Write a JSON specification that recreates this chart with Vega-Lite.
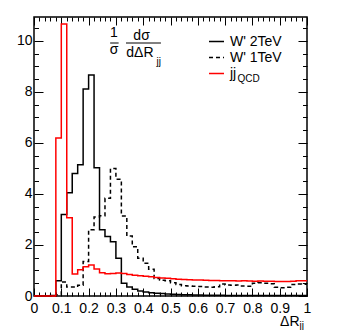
{
"$schema": "https://vega.github.io/schema/vega-lite/v6.json",
"width": 273, "height": 279,
"autosize": {"type": "none"},
"padding": {"left": 34, "top": 17, "right": 34, "bottom": 34},
"background": "white",
"config": {
  "view": {"stroke": "#000", "strokeWidth": 1.5},
  "font": "Liberation Sans",
  "axis": {"domain": false, "grid": false, "labelFont": "Liberation Sans", "labelFontSize": 14, "labelColor": "#000", "tickColor": "#000", "tickWidth": 1, "labelFlush": false, "labelOverlap": false, "zindex": 1, "title": null},
  "text": {"font": "Liberation Sans", "fontSize": 14, "color": "#000"}
},
"datasets": {
  "hist": [
    {"series": "W' 2TeV", "x": 0, "y": 0}, {"series": "W' 2TeV", "x": 0.02, "y": 0}, {"series": "W' 2TeV", "x": 0.04, "y": 0}, {"series": "W' 2TeV", "x": 0.06, "y": 0.02},
    {"series": "W' 2TeV", "x": 0.08, "y": 0.6}, {"series": "W' 2TeV", "x": 0.1, "y": 3.2}, {"series": "W' 2TeV", "x": 0.12, "y": 4.05}, {"series": "W' 2TeV", "x": 0.14, "y": 4.8},
    {"series": "W' 2TeV", "x": 0.16, "y": 5.15}, {"series": "W' 2TeV", "x": 0.18, "y": 8.12}, {"series": "W' 2TeV", "x": 0.2, "y": 8.67}, {"series": "W' 2TeV", "x": 0.22, "y": 5.03},
    {"series": "W' 2TeV", "x": 0.24, "y": 2.6}, {"series": "W' 2TeV", "x": 0.26, "y": 2.33}, {"series": "W' 2TeV", "x": 0.28, "y": 2.13}, {"series": "W' 2TeV", "x": 0.3, "y": 1.48},
    {"series": "W' 2TeV", "x": 0.32, "y": 0.5}, {"series": "W' 2TeV", "x": 0.34, "y": 0.35}, {"series": "W' 2TeV", "x": 0.36, "y": 0.26}, {"series": "W' 2TeV", "x": 0.38, "y": 0.2},
    {"series": "W' 2TeV", "x": 0.4, "y": 0.16}, {"series": "W' 2TeV", "x": 0.42, "y": 0.13}, {"series": "W' 2TeV", "x": 0.44, "y": 0.11}, {"series": "W' 2TeV", "x": 0.46, "y": 0.1},
    {"series": "W' 2TeV", "x": 0.48, "y": 0.08}, {"series": "W' 2TeV", "x": 0.5, "y": 0.07}, {"series": "W' 2TeV", "x": 0.52, "y": 0.06}, {"series": "W' 2TeV", "x": 0.54, "y": 0.05},
    {"series": "W' 2TeV", "x": 0.56, "y": 0.05}, {"series": "W' 2TeV", "x": 0.58, "y": 0.04}, {"series": "W' 2TeV", "x": 0.6, "y": 0.04}, {"series": "W' 2TeV", "x": 0.62, "y": 0.03},
    {"series": "W' 2TeV", "x": 0.64, "y": 0.03}, {"series": "W' 2TeV", "x": 0.66, "y": 0.03}, {"series": "W' 2TeV", "x": 0.68, "y": 0.03}, {"series": "W' 2TeV", "x": 0.7, "y": 0.02},
    {"series": "W' 2TeV", "x": 0.72, "y": 0.02}, {"series": "W' 2TeV", "x": 0.74, "y": 0.02}, {"series": "W' 2TeV", "x": 0.76, "y": 0.02}, {"series": "W' 2TeV", "x": 0.78, "y": 0.02},
    {"series": "W' 2TeV", "x": 0.8, "y": 0.02}, {"series": "W' 2TeV", "x": 0.82, "y": 0.02}, {"series": "W' 2TeV", "x": 0.84, "y": 0.02}, {"series": "W' 2TeV", "x": 0.86, "y": 0.02},
    {"series": "W' 2TeV", "x": 0.88, "y": 0.02}, {"series": "W' 2TeV", "x": 0.9, "y": 0.02}, {"series": "W' 2TeV", "x": 0.92, "y": 0.02}, {"series": "W' 2TeV", "x": 0.94, "y": 0.02},
    {"series": "W' 2TeV", "x": 0.96, "y": 0.02}, {"series": "W' 2TeV", "x": 0.98, "y": 0.02}, {"series": "W' 2TeV", "x": 1.0, "y": 0.02},

    {"series": "W' 1TeV", "x": 0, "y": 0}, {"series": "W' 1TeV", "x": 0.02, "y": 0}, {"series": "W' 1TeV", "x": 0.04, "y": 0}, {"series": "W' 1TeV", "x": 0.06, "y": 0},
    {"series": "W' 1TeV", "x": 0.08, "y": 0.05}, {"series": "W' 1TeV", "x": 0.1, "y": 0.55}, {"series": "W' 1TeV", "x": 0.12, "y": 0.35}, {"series": "W' 1TeV", "x": 0.14, "y": 0.35},
    {"series": "W' 1TeV", "x": 0.16, "y": 0.42}, {"series": "W' 1TeV", "x": 0.18, "y": 1.35}, {"series": "W' 1TeV", "x": 0.2, "y": 2.6}, {"series": "W' 1TeV", "x": 0.22, "y": 3.1},
    {"series": "W' 1TeV", "x": 0.24, "y": 3.15}, {"series": "W' 1TeV", "x": 0.26, "y": 3.83}, {"series": "W' 1TeV", "x": 0.28, "y": 5.0}, {"series": "W' 1TeV", "x": 0.3, "y": 4.58},
    {"series": "W' 1TeV", "x": 0.32, "y": 3.14}, {"series": "W' 1TeV", "x": 0.34, "y": 2.35}, {"series": "W' 1TeV", "x": 0.36, "y": 1.93}, {"series": "W' 1TeV", "x": 0.38, "y": 1.48},
    {"series": "W' 1TeV", "x": 0.4, "y": 1.28}, {"series": "W' 1TeV", "x": 0.42, "y": 1.05}, {"series": "W' 1TeV", "x": 0.44, "y": 0.69}, {"series": "W' 1TeV", "x": 0.46, "y": 0.62},
    {"series": "W' 1TeV", "x": 0.48, "y": 0.6}, {"series": "W' 1TeV", "x": 0.5, "y": 0.52}, {"series": "W' 1TeV", "x": 0.52, "y": 0.45}, {"series": "W' 1TeV", "x": 0.54, "y": 0.4},
    {"series": "W' 1TeV", "x": 0.56, "y": 0.39}, {"series": "W' 1TeV", "x": 0.58, "y": 0.38}, {"series": "W' 1TeV", "x": 0.6, "y": 0.37}, {"series": "W' 1TeV", "x": 0.62, "y": 0.35},
    {"series": "W' 1TeV", "x": 0.64, "y": 0.34}, {"series": "W' 1TeV", "x": 0.66, "y": 0.36}, {"series": "W' 1TeV", "x": 0.68, "y": 0.47}, {"series": "W' 1TeV", "x": 0.7, "y": 0.43},
    {"series": "W' 1TeV", "x": 0.72, "y": 0.42}, {"series": "W' 1TeV", "x": 0.74, "y": 0.43}, {"series": "W' 1TeV", "x": 0.76, "y": 0.39}, {"series": "W' 1TeV", "x": 0.78, "y": 0.38},
    {"series": "W' 1TeV", "x": 0.8, "y": 0.5}, {"series": "W' 1TeV", "x": 0.82, "y": 0.52}, {"series": "W' 1TeV", "x": 0.84, "y": 0.5}, {"series": "W' 1TeV", "x": 0.86, "y": 0.48},
    {"series": "W' 1TeV", "x": 0.88, "y": 0.34}, {"series": "W' 1TeV", "x": 0.9, "y": 0.32}, {"series": "W' 1TeV", "x": 0.92, "y": 0.34}, {"series": "W' 1TeV", "x": 0.94, "y": 0.45},
    {"series": "W' 1TeV", "x": 0.96, "y": 0.47}, {"series": "W' 1TeV", "x": 0.98, "y": 0.46}, {"series": "W' 1TeV", "x": 1.0, "y": 0.46},

    {"series": "jjQCD", "x": 0, "y": 0}, {"series": "jjQCD", "x": 0.02, "y": 0}, {"series": "jjQCD", "x": 0.04, "y": 0}, {"series": "jjQCD", "x": 0.06, "y": 0},
    {"series": "jjQCD", "x": 0.08, "y": 6.2}, {"series": "jjQCD", "x": 0.1, "y": 10.67}, {"series": "jjQCD", "x": 0.12, "y": 3.07}, {"series": "jjQCD", "x": 0.14, "y": 0.86},
    {"series": "jjQCD", "x": 0.16, "y": 1.03}, {"series": "jjQCD", "x": 0.18, "y": 1.15}, {"series": "jjQCD", "x": 0.2, "y": 1.22}, {"series": "jjQCD", "x": 0.22, "y": 1.06},
    {"series": "jjQCD", "x": 0.24, "y": 0.91}, {"series": "jjQCD", "x": 0.26, "y": 0.87}, {"series": "jjQCD", "x": 0.28, "y": 0.88}, {"series": "jjQCD", "x": 0.3, "y": 0.9},
    {"series": "jjQCD", "x": 0.32, "y": 0.88}, {"series": "jjQCD", "x": 0.34, "y": 0.84}, {"series": "jjQCD", "x": 0.36, "y": 0.81}, {"series": "jjQCD", "x": 0.38, "y": 0.79},
    {"series": "jjQCD", "x": 0.4, "y": 0.77}, {"series": "jjQCD", "x": 0.42, "y": 0.75}, {"series": "jjQCD", "x": 0.44, "y": 0.73}, {"series": "jjQCD", "x": 0.46, "y": 0.71},
    {"series": "jjQCD", "x": 0.48, "y": 0.7}, {"series": "jjQCD", "x": 0.5, "y": 0.68}, {"series": "jjQCD", "x": 0.52, "y": 0.66}, {"series": "jjQCD", "x": 0.54, "y": 0.65},
    {"series": "jjQCD", "x": 0.56, "y": 0.64}, {"series": "jjQCD", "x": 0.58, "y": 0.63}, {"series": "jjQCD", "x": 0.6, "y": 0.63}, {"series": "jjQCD", "x": 0.62, "y": 0.62},
    {"series": "jjQCD", "x": 0.64, "y": 0.61}, {"series": "jjQCD", "x": 0.66, "y": 0.61}, {"series": "jjQCD", "x": 0.68, "y": 0.6}, {"series": "jjQCD", "x": 0.7, "y": 0.6},
    {"series": "jjQCD", "x": 0.72, "y": 0.6}, {"series": "jjQCD", "x": 0.74, "y": 0.59}, {"series": "jjQCD", "x": 0.76, "y": 0.6}, {"series": "jjQCD", "x": 0.78, "y": 0.59},
    {"series": "jjQCD", "x": 0.8, "y": 0.58}, {"series": "jjQCD", "x": 0.82, "y": 0.59}, {"series": "jjQCD", "x": 0.84, "y": 0.58}, {"series": "jjQCD", "x": 0.86, "y": 0.58},
    {"series": "jjQCD", "x": 0.88, "y": 0.57}, {"series": "jjQCD", "x": 0.9, "y": 0.57}, {"series": "jjQCD", "x": 0.92, "y": 0.57}, {"series": "jjQCD", "x": 0.94, "y": 0.58},
    {"series": "jjQCD", "x": 0.96, "y": 0.6}, {"series": "jjQCD", "x": 0.98, "y": 0.6}, {"series": "jjQCD", "x": 1.0, "y": 0.6}
  ],
  "one": [{}]
},
"resolve": {"axis": {"x": "independent", "y": "independent"}},
"layer": [
  {
    "data": {"name": "hist"},
    "mark": {"type": "line", "interpolate": "step-after", "strokeWidth": 1.5},
    "encoding": {
      "x": {"field": "x", "type": "quantitative", "scale": {"domain": [0, 1], "nice": false},
        "axis": {"orient": "bottom", "values": [0, 0.1, 0.2, 0.3, 0.4, 0.5, 0.6, 0.7, 0.8, 0.9, 1], "format": "~f", "tickSize": -8, "labelPadding": 13,
          "title": "ΔR", "titleFontSize": 14, "titleFont": "Liberation Sans", "titleFontWeight": "normal", "titleAnchor": "end", "titleAlign": "right", "titleBaseline": "alphabetic", "titleX": 265, "titleY": 29.5}},
      "y": {"field": "y", "type": "quantitative", "scale": {"domain": [0, 10.94], "nice": false},
        "axis": {"orient": "left", "values": [0, 2, 4, 6, 8, 10], "format": "~f", "tickSize": -9, "labelPadding": 11}},
      "color": {"field": "series", "type": "nominal", "scale": {"domain": ["W' 2TeV", "W' 1TeV", "jjQCD"], "range": ["#000000", "#000000", "#ff0000"]},
        "legend": {"orient": "none", "legendX": 174, "legendY": 16, "title": null, "padding": 0, "symbolType": "stroke", "symbolSize": 225, "symbolStrokeWidth": 1.5, "labelFont": "Liberation Sans", "labelFontSize": 14, "labelColor": "#000", "labelOffset": 5, "rowPadding": 0, "labelExpr": "datum.label == 'jjQCD' ? 'jj' : datum.label"}},
      "strokeDash": {"field": "series", "type": "nominal", "scale": {"domain": ["W' 2TeV", "W' 1TeV", "jjQCD"], "range": [[1, 0], [4, 3], [1, 0]]},
        "legend": {"orient": "none", "legendX": 174, "legendY": 16, "title": null, "padding": 0, "symbolType": "stroke", "symbolSize": 225, "symbolStrokeWidth": 1.5, "labelFont": "Liberation Sans", "labelFontSize": 14, "labelColor": "#000", "labelOffset": 5, "rowPadding": 0, "labelExpr": "datum.label == 'jjQCD' ? 'jj' : datum.label"}}
    }
  },
  {
    "data": {"name": "one"},
    "mark": {"type": "text", "text": "1", "fontSize": 14},
    "encoding": {
      "x": {"datum": 0.293, "type": "quantitative", "scale": {"domain": [0, 1], "nice": false},
        "axis": {"orient": "bottom", "values": [0.02,0.04,0.06,0.08,0.12,0.14,0.16,0.18,0.22,0.24,0.26,0.28,0.32,0.34,0.36,0.38,0.42,0.44,0.46,0.48,0.52,0.54,0.56,0.58,0.62,0.64,0.66,0.68,0.72,0.74,0.76,0.78,0.82,0.84,0.86,0.88,0.92,0.94,0.96,0.98], "tickSize": -4, "labels": false,
          "title": "jj", "titleFontSize": 10, "titleFont": "Liberation Sans", "titleFontWeight": "normal", "titleAlign": "left", "titleAnchor": "start", "titleBaseline": "alphabetic", "titleX": 265, "titleY": 32}},
      "y": {"datum": 10.32, "type": "quantitative", "scale": {"domain": [0, 10.94], "nice": false},
        "axis": {"orient": "left", "values": [0.5,1,1.5,2.5,3,3.5,4.5,5,5.5,6.5,7,7.5,8.5,9,9.5,10.5], "tickSize": -4.5, "labels": false}}
    }
  },
  {
    "data": {"name": "one"},
    "mark": {"type": "text", "text": "σ", "fontSize": 14},
    "encoding": {
      "x": {"datum": 0.293, "type": "quantitative", "scale": {"domain": [0, 1], "nice": false},
        "axis": {"orient": "top", "values": [0, 0.1, 0.2, 0.3, 0.4, 0.5, 0.6, 0.7, 0.8, 0.9, 1], "tickSize": -8, "labels": false}},
      "y": {"datum": 9.66, "type": "quantitative", "scale": {"domain": [0, 10.94], "nice": false},
        "axis": {"orient": "right", "values": [0, 2, 4, 6, 8, 10], "tickSize": -9, "labels": false}}
    }
  },
  {
    "data": {"name": "one"},
    "mark": {"type": "text", "text": "dσ", "fontSize": 14},
    "encoding": {
      "x": {"datum": 0.394, "type": "quantitative", "scale": {"domain": [0, 1], "nice": false},
        "axis": {"orient": "top", "values": [0.02,0.04,0.06,0.08,0.12,0.14,0.16,0.18,0.22,0.24,0.26,0.28,0.32,0.34,0.36,0.38,0.42,0.44,0.46,0.48,0.52,0.54,0.56,0.58,0.62,0.64,0.66,0.68,0.72,0.74,0.76,0.78,0.82,0.84,0.86,0.88,0.92,0.94,0.96,0.98], "tickSize": -4, "labels": false}},
      "y": {"datum": 10.2, "type": "quantitative", "scale": {"domain": [0, 10.94], "nice": false},
        "axis": {"orient": "right", "values": [0.5,1,1.5,2.5,3,3.5,4.5,5,5.5,6.5,7,7.5,8.5,9,9.5,10.5], "tickSize": -4.5, "labels": false}}
    }
  },
  {
    "data": {"name": "one"},
    "mark": {"type": "text", "text": "dΔR", "fontSize": 14},
    "encoding": {
      "x": {"datum": 0.388, "type": "quantitative", "scale": {"domain": [0, 1], "nice": false}, "axis": null},
      "y": {"datum": 9.52, "type": "quantitative", "scale": {"domain": [0, 10.94], "nice": false}, "axis": null}
    }
  },
  {
    "data": {"name": "one"},
    "mark": {"type": "text", "text": "jj", "fontSize": 10},
    "encoding": {
      "x": {"datum": 0.457, "type": "quantitative", "scale": {"domain": [0, 1], "nice": false}, "axis": null},
      "y": {"datum": 9.17, "type": "quantitative", "scale": {"domain": [0, 10.94], "nice": false}, "axis": null}
    }
  },
  {
    "data": {"name": "one"},
    "mark": {"type": "rule", "color": "#000", "strokeWidth": 1},
    "encoding": {
      "x": {"datum": 0.279, "type": "quantitative", "scale": {"domain": [0, 1], "nice": false}, "axis": null},
      "x2": {"datum": 0.31},
      "y": {"datum": 9.92, "type": "quantitative", "scale": {"domain": [0, 10.94], "nice": false}, "axis": null}
    }
  },
  {
    "data": {"name": "one"},
    "mark": {"type": "rule", "color": "#000", "strokeWidth": 1},
    "encoding": {
      "x": {"datum": 0.337, "type": "quantitative", "scale": {"domain": [0, 1], "nice": false}, "axis": null},
      "x2": {"datum": 0.465},
      "y": {"datum": 9.92, "type": "quantitative", "scale": {"domain": [0, 10.94], "nice": false}, "axis": null}
    }
  },
  {
    "data": {"name": "one"},
    "mark": {"type": "text", "text": "QCD", "fontSize": 10, "align": "left"},
    "encoding": {
      "x": {"datum": 0.745, "type": "quantitative", "scale": {"domain": [0, 1], "nice": false}, "axis": null},
      "y": {"datum": 8.5, "type": "quantitative", "scale": {"domain": [0, 10.94], "nice": false}, "axis": null}
    }
  }
]
}
